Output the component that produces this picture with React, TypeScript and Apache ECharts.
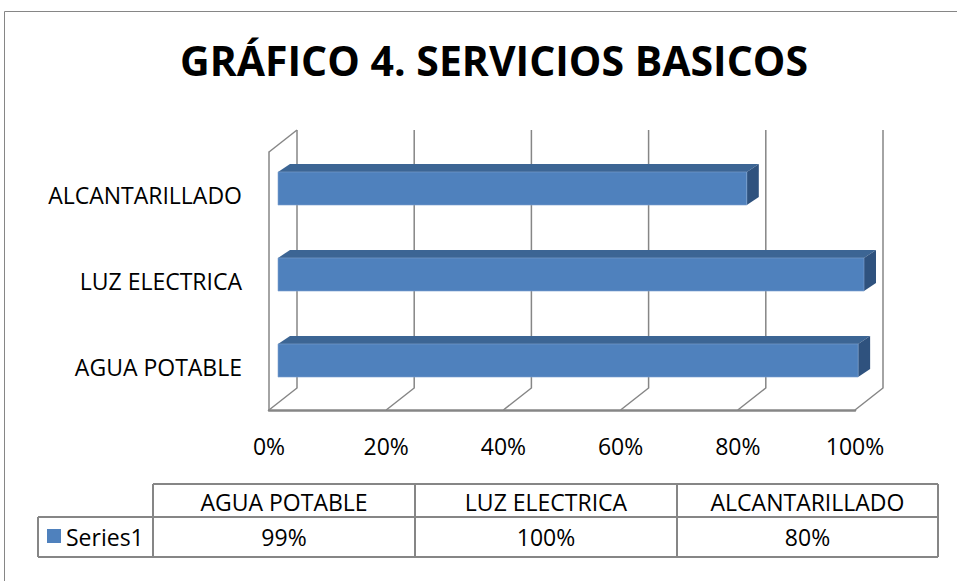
import React, { useEffect, useRef } from "react";
import * as echarts from "echarts";

const title = "GRÁFICO 4. SERVICIOS BASICOS";
const categories = ["AGUA POTABLE", "LUZ ELECTRICA", "ALCANTARILLADO"];
const values = [0.99, 1.0, 0.8];
const seriesName = "Series1";
const xTicks = [0, 0.2, 0.4, 0.6, 0.8, 1.0];

const FONT = "'Open Sans', 'Liberation Sans', sans-serif";
const GRID_COLOR = "#868686";
const BAR_FRONT = "#4F81BD";
const BAR_TOP = "#3C6594";
const BAR_SIDE = "#2F527E";

// 3D perspective offsets
const DX = 28;
const DY = 22;
const FX = 9;
const FY = -6.5;
const BX = 12;
const BY = 8;

const pct = (v: number) => Math.round(v * 100) + "%";

export default function App() {
  const ref = useRef<HTMLDivElement>(null);
  useEffect(() => {
    if (!ref.current) return;
    const chart = echarts.init(ref.current, null, { renderer: "svg" });

    const colX = [153, 415, 677, 938];
    const rowY = [484, 517, 557];
    const tableLeft = 38;
    const headerY = 502;
    const valueY = 537;
    const lineStyle = { stroke: GRID_COLOR, lineWidth: 2 };
    const tableGraphics: any[] = [
      { type: "line", shape: { x1: colX[0], y1: rowY[0], x2: colX[3], y2: rowY[0] }, style: lineStyle },
      { type: "line", shape: { x1: tableLeft, y1: rowY[1], x2: colX[3], y2: rowY[1] }, style: lineStyle },
      { type: "line", shape: { x1: tableLeft, y1: rowY[2], x2: colX[3], y2: rowY[2] }, style: lineStyle },
      { type: "line", shape: { x1: tableLeft, y1: rowY[1], x2: tableLeft, y2: rowY[2] }, style: lineStyle },
      ...colX.map((x) => ({
        type: "line",
        shape: { x1: x, y1: rowY[0], x2: x, y2: rowY[2] },
        style: lineStyle,
      })),
      ...categories.map((c, i) => ({
        type: "text",
        x: (colX[i] + colX[i + 1]) / 2,
        y: headerY,
        style: { text: c, font: `23px ${FONT}`, fill: "#000", textAlign: "center", textVerticalAlign: "middle" },
      })),
      ...values.map((v, i) => ({
        type: "text",
        x: (colX[i] + colX[i + 1]) / 2,
        y: valueY,
        style: { text: pct(v), font: `23px ${FONT}`, fill: "#000", textAlign: "center", textVerticalAlign: "middle" },
      })),
      { type: "rect", shape: { x: 47, y: 529, width: 14, height: 14 }, style: { fill: BAR_FRONT } },
      {
        type: "text",
        x: 66,
        y: valueY,
        style: { text: seriesName, font: `23px ${FONT}`, fill: "#000", textAlign: "left", textVerticalAlign: "middle" },
      },
      {
        type: "rect",
        shape: { x: 4.5, y: 11.5, width: 1000, height: 1000 },
        style: { fill: "none", stroke: GRID_COLOR, lineWidth: 1 },
        silent: true,
      },
    ];

    const option: any = {
      animation: false,
      backgroundColor: "#fff",
      title: {
        text: title,
        left: 489,
        top: 34,
        textAlign: "center",
        textStyle: { fontFamily: FONT, fontSize: 41, fontWeight: "bold", color: "#000" },
      },
      grid: { left: 269, right: 102, top: 152, bottom: 171 },
      xAxis: {
        type: "value",
        min: 0,
        max: 1,
        interval: 0.2,
        axisLine: { show: true, lineStyle: { color: GRID_COLOR, width: 2.5 } },
        axisTick: { show: false },
        splitLine: { show: false },
        axisLabel: { formatter: pct, fontFamily: FONT, fontSize: 23, color: "#000", margin: 24 },
      },
      yAxis: {
        type: "category",
        data: categories,
        axisLine: { show: true, lineStyle: { color: GRID_COLOR, width: 1.5 } },
        axisTick: { show: false },
        splitLine: { show: false },
        axisLabel: { fontFamily: FONT, fontSize: 23, color: "#000", margin: 27 },
      },
      graphic: tableGraphics,
      series: [
        {
          type: "custom",
          name: "grid3d",
          silent: true,
          clip: false,
          data: xTicks.map((v) => [v, 0]),
          encode: { x: 0, y: 1 },
          renderItem: (params: any, api: any) => {
            const v = api.value(0);
            const cs = params.coordSys;
            const x = api.coord([v, 0])[0];
            const bottom = cs.y + cs.height;
            const top = cs.y;
            const children: any[] = [
              {
                type: "polyline",
                shape: { points: [[x, bottom], [x + DX, bottom - DY], [x + DX, top - DY]] },
                style: { stroke: GRID_COLOR, lineWidth: 1.5, fill: "none" },
              },
            ];
            if (params.dataIndex === 0) {
              children.push({
                type: "line",
                shape: { x1: x, y1: top, x2: x + DX, y2: top - DY },
                style: { stroke: GRID_COLOR, lineWidth: 1.5 },
              });
            }
            return { type: "group", children };
          },
        },
        {
          type: "custom",
          name: seriesName,
          clip: false,
          data: values.map((v, i) => [v, i]),
          encode: { x: 0, y: 1 },
          renderItem: (params: any, api: any) => {
            const v = api.value(0);
            const i = api.value(1);
            const p0 = api.coord([0, i]);
            const p1 = api.coord([v, i]);
            const band = api.size([0, 1])[1];
            const h = band * 0.385;
            const x0 = p0[0] + FX;
            const x1 = p1[0] + FX;
            const yc = p0[1] + FY;
            const yt = yc - h / 2;
            const yb = yc + h / 2;
            return {
              type: "group",
              children: [
                {
                  type: "polygon",
                  shape: { points: [[x0, yt], [x1, yt], [x1 + BX, yt - BY], [x0 + BX, yt - BY]] },
                  style: { fill: BAR_TOP },
                },
                {
                  type: "polygon",
                  shape: { points: [[x1, yt], [x1 + BX, yt - BY], [x1 + BX, yb - BY], [x1, yb]] },
                  style: { fill: BAR_SIDE },
                },
                {
                  type: "rect",
                  shape: { x: x0, y: yt, width: x1 - x0, height: h },
                  style: { fill: BAR_FRONT, stroke: "#7FA3D0", lineWidth: 0.6 },
                },
              ],
            };
          },
        },
      ],
    };
    chart.setOption(option);
    return () => chart.dispose();
  }, []);
  return (
    <div
      ref={ref}
      style={{ position: "fixed", left: 0, top: 0, width: 957, height: 581, background: "#fff" }}
    />
  );
}
